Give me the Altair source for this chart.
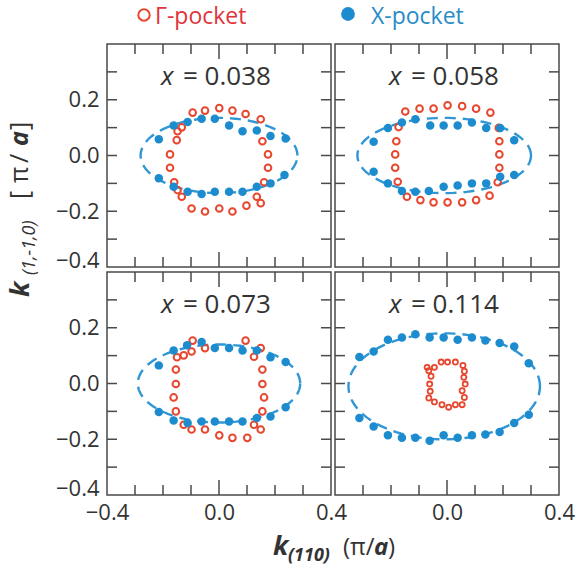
import altair as alt
import numpy as np
import pandas as pd

# Doping levels, one panel each
compositions = ["0.038", "0.058", "0.073", "0.114"]

# Γ-pocket Fermi-surface points (open circles), in units of π/a
g_x = [
    [-0.094, -0.050, 0.001, 0.048, 0.095, 0.149, -0.133, -0.148, -0.151, -0.175, -0.175, -0.160,
     -0.148, -0.133, -0.098, -0.050, 0.001, 0.048, 0.098, 0.135, 0.149, 0.161, 0.175, 0.175, 0.155],
    [-0.149, -0.098, -0.048, 0.002, 0.054, 0.104, 0.155, -0.173, -0.181, -0.185, -0.185, -0.176,
     -0.143, -0.095, -0.048, 0.002, 0.054, 0.104, 0.152, 0.181, 0.187, 0.187, 0.187, 0.185],
    [-0.094, -0.050, 0.095, 0.149, -0.150, -0.126, -0.098, 0.125, -0.154, -0.154, -0.162, -0.154,
     -0.126, -0.098, -0.050, 0.001, 0.048, 0.101, 0.125, 0.149, 0.155, 0.155, 0.161, 0.155],
    [-0.071, -0.045, -0.021, 0.002, 0.030, 0.057, 0.062, 0.060, 0.065, 0.054, 0.062, 0.054,
     0.030, 0.006, -0.018, -0.045, -0.065, -0.060, -0.062, -0.057, -0.065],
]
g_y = [
    [0.154, 0.161, 0.170, 0.161, 0.149, 0.130, 0.101, 0.087, 0.055, 0.004, -0.044, -0.096,
     -0.124, -0.148, -0.190, -0.201, -0.190, -0.201, -0.180, -0.148, -0.171, -0.096, -0.044, 0.004, 0.051],
    [0.158, 0.168, 0.168, 0.180, 0.177, 0.168, 0.154, 0.102, 0.051, 0.004, -0.044, -0.094,
     -0.148, -0.160, -0.168, -0.168, -0.168, -0.160, -0.144, -0.096, -0.044, 0.004, 0.051, 0.099],
    [0.154, 0.127, 0.154, 0.127, 0.094, 0.101, 0.115, 0.096, 0.050, -0.002, -0.050, -0.100,
     -0.148, -0.165, -0.165, -0.186, -0.195, -0.195, -0.148, -0.165, 0.050, -0.002, -0.050, -0.100],
    [0.058, 0.058, 0.077, 0.077, 0.077, 0.065, 0.044, 0.022, -0.002, -0.026, -0.050, -0.076,
     -0.076, -0.085, -0.076, -0.066, -0.052, -0.028, -0.002, 0.026, 0.046],
]

# X-pocket Fermi-surface points (filled circles)
b_x = [
    [-0.215, -0.162, -0.112, -0.062, -0.015, 0.036, 0.084, 0.135, 0.184, 0.238,
     -0.215, -0.162, -0.112, -0.062, -0.015, 0.036, 0.084, 0.135, 0.184, 0.234],
    [-0.262, -0.211, -0.161, -0.113, -0.060, -0.012, 0.038, 0.089, 0.140, 0.190, 0.240,
     -0.262, -0.211, -0.161, -0.113, -0.065, -0.012, 0.038, 0.089, 0.140, 0.190, 0.240],
    [-0.215, -0.162, -0.114, -0.062, -0.015, 0.036, 0.084, 0.135, 0.184, 0.238,
     -0.215, -0.162, -0.112, -0.062, -0.015, 0.036, 0.084, 0.135, 0.184, 0.238],
    [-0.313, -0.262, -0.211, -0.161, -0.113, -0.062, -0.012, 0.038, 0.089, 0.137, 0.188, 0.240, 0.292,
     -0.313, -0.262, -0.211, -0.161, -0.113, -0.062, -0.012, 0.038, 0.089, 0.137, 0.188, 0.240, 0.292],
]
b_y = [
    [0.058, 0.108, 0.120, 0.132, 0.132, 0.108, 0.087, 0.090, 0.070, 0.061,
     -0.082, -0.112, -0.130, -0.138, -0.130, -0.130, -0.130, -0.112, -0.100, -0.070],
    [0.049, 0.099, 0.118, 0.130, 0.108, 0.108, 0.108, 0.118, 0.099, 0.099, 0.055,
     -0.058, -0.100, -0.127, -0.130, -0.127, -0.112, -0.108, -0.100, -0.100, -0.076, -0.070],
    [0.065, 0.118, 0.137, 0.149, 0.127, 0.127, 0.118, 0.118, 0.094, 0.077,
     -0.102, -0.133, -0.142, -0.136, -0.136, -0.136, -0.136, -0.124, -0.118, -0.085],
    [0.095, 0.115, 0.157, 0.165, 0.177, 0.165, 0.165, 0.157, 0.165, 0.154, 0.145, 0.133, 0.073,
     -0.124, -0.154, -0.186, -0.195, -0.195, -0.205, -0.186, -0.195, -0.186, -0.183, -0.174, -0.142, -0.112],
]

# Elliptical fit of the X pocket: centre and semi-axes
ell_cx = [0.0, -0.01, 0.0, -0.01]
ell_cy = [0.0, 0.0, 0.0, -0.01]
ell_a = [0.28, 0.31, 0.29, 0.342]
ell_b = [0.135, 0.135, 0.14, 0.19]

# Inward frame ticks
tick_vals = [-0.3, -0.2, -0.1, 0.0, 0.1, 0.2, 0.3]
y_label_vals = [-0.4, -0.2, 0.0, 0.2]
x_label_vals = [[-0.4, 0.0, 0.4], [0.0, 0.4]]

RED = "#e8472f"
BLUE = "#1d8ccf"
FRAME = "#4a4a4a"
TXT = "#333333"
FONT = "Open Sans"
W, H = 224, 223
TL, TC = 10, 15  # tick lengths (normal, centre x tick)

dom = alt.Scale(domain=[-0.4, 0.4], nice=False, zero=False)


def one_row():
    return pd.DataFrame({"z": [0]})


def text(s, x, y, size=24, **kw):
    return alt.Chart(one_row()).mark_text(
        text=s, font=FONT, fontSize=size, color=kw.pop("color", TXT),
        align=kw.pop("align", "left"), baseline="alphabetic", **kw
    ).encode(x=alt.value(x), y=alt.value(y))


def panel(i, xlabels=None, ylabels=False, extras=()):
    x_axis = (alt.Axis(values=xlabels, format=".1f", ticks=False, domain=False, grid=False,
                       labelFontSize=22, labelFont=FONT, labelColor=TXT, labelPadding=7,
                       labelFlush=False, labelOverlap=False, labelBound=False)
              if xlabels else None)
    # the bottom label of each left panel sits a little above its tick
    y_axis = (alt.Axis(values=y_label_vals, format=".1f", ticks=False, domain=False, grid=False,
                       labelFontSize=22, labelFont=FONT, labelColor=TXT, labelPadding=8,
                       labelFlush=False, labelOverlap=False, labelBound=False,
                       labelOffset={"condition": {"test": "datum.value < -0.3", "value": -7},
                                    "value": 0})
              if ylabels else None)
    X = alt.X("kx:Q", scale=dom, axis=x_axis, title=None)
    Y = alt.Y("ky:Q", scale=dom, axis=y_axis, title=None)

    t = np.linspace(0, 2 * np.pi, 121)
    ell = pd.DataFrame({
        "kx": ell_cx[i] + ell_a[i] * np.cos(t),
        "ky": ell_cy[i] + ell_b[i] * np.sin(t),
        "o": np.arange(len(t)),
    })
    fit = alt.Chart(ell).mark_line(color="#3097d4", strokeWidth=2.4, strokeDash=[11, 7]).encode(
        x=X, y=Y, order="o:Q")

    small = i == 3
    gam = alt.Chart(pd.DataFrame({"kx": g_x[i], "ky": g_y[i]})).mark_point(
        shape="circle", filled=False, color=RED, opacity=1,
        size=26 if small else 44, strokeWidth=1.8 if small else 2.0).encode(x=X, y=Y)
    xp = alt.Chart(pd.DataFrame({"kx": b_x[i], "ky": b_y[i]})).mark_circle(
        color=BLUE, opacity=1, size=72).encode(x=X, y=Y)

    xt = alt.Chart(pd.DataFrame({"kx": [v for v in tick_vals if v != 0.0]}))
    xt0 = alt.Chart(pd.DataFrame({"kx": [0.0]}))
    yt = alt.Chart(pd.DataFrame({"ky": tick_vals}))
    rule = dict(color=FRAME, strokeWidth=1.5)
    ticks = [
        xt.mark_rule(**rule).encode(x=X, y=alt.value(0), y2=alt.value(TL)),
        xt.mark_rule(**rule).encode(x=X, y=alt.value(H), y2=alt.value(H - TL)),
        xt0.mark_rule(**rule).encode(x=X, y=alt.value(0), y2=alt.value(TC)),
        xt0.mark_rule(**rule).encode(x=X, y=alt.value(H), y2=alt.value(H - TC)),
        yt.mark_rule(**rule).encode(y=Y, x=alt.value(0), x2=alt.value(TL)),
        yt.mark_rule(**rule).encode(y=Y, x=alt.value(W), x2=alt.value(W - TL)),
    ]

    # panel heading "x = ..." with an italic x
    title = [
        text("x", 54, 41, 26, fontStyle="italic"),
        text("= " + compositions[i], 76, 41, 26),
    ]

    return alt.layer(fit, gam, xp, *ticks, *title, *extras).properties(width=W, height=H)


# Legend across the top
legend = [
    alt.Chart(one_row()).mark_point(shape="circle", filled=False, color=RED, size=130,
                                    strokeWidth=2, opacity=1).encode(x=alt.value(37), y=alt.value(-29)),
    text("Γ-pocket", 48, -20, 23, color="#e0353b"),
    alt.Chart(one_row()).mark_circle(color=BLUE, size=190, opacity=1).encode(
        x=alt.value(241), y=alt.value(-30)),
    text("X-pocket", 264, -20, 23, color="#2a8cc6"),
]

# Rotated y-axis title: k_(1,-1,0) [π/a]
ytitle = [
    text("k", -78, 253, 27, fontWeight="bold", fontStyle="italic", angle=270),
    text("(1,-1,0)", -72, 231, 18, fontStyle="italic", angle=270),
    text("[", -79, 155, 25, angle=270),
    text("π", -79, 139, 25, angle=270),
    text("/", -79, 119, 25, angle=270),
    text("a", -79, 102, 25, fontWeight="bold", fontStyle="italic", angle=270),
    text("]", -79, 86, 25, angle=270),
]

# x-axis title: k_(110) (π/a)
xtitle = [
    text("k", 166, 283, 27, fontWeight="bold", fontStyle="italic"),
    text("(110)", 181, 289, 18, fontWeight="bold", fontStyle="italic"),
    text("(π/", 236, 283, 24),
    text("a", 267, 283, 24, fontWeight="bold", fontStyle="italic"),
    text(")", 281, 283, 24),
]

p1 = panel(0, ylabels=True, extras=legend + ytitle)
p2 = panel(1)
p3 = panel(2, xlabels=x_label_vals[0], ylabels=True, extras=xtitle)
p4 = panel(3, xlabels=x_label_vals[1])

chart = alt.concat(
    p1, p2, p3, p4, columns=2, spacing={"row": 5, "column": 4}, bounds="flush",
).properties(
    padding={"left": 6, "top": 4, "right": 5, "bottom": 5},
    background="white",
).configure_view(stroke=FRAME, strokeWidth=1.5)

chart.save("out.html", embed_options={"renderer": "svg", "actions": False})
